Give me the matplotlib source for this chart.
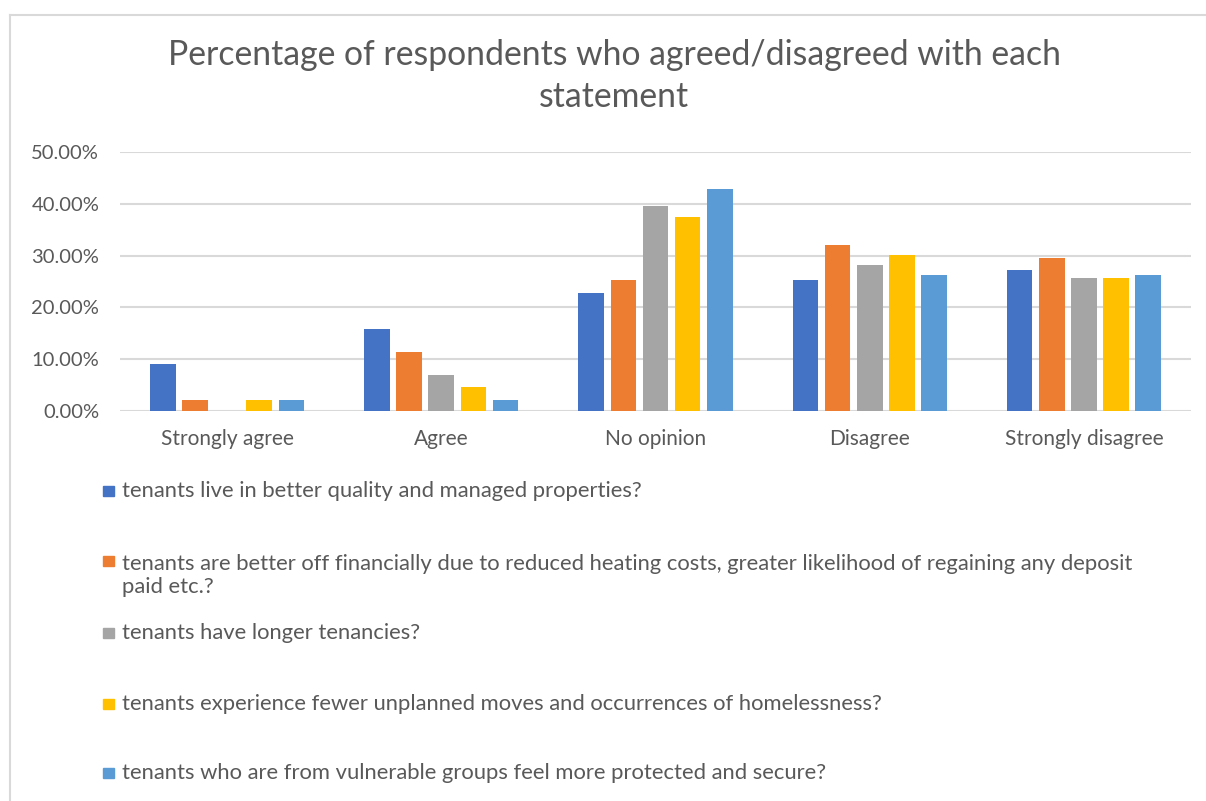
import numpy as np
import matplotlib
matplotlib.use("Agg")
import matplotlib.pyplot as plt
from matplotlib.ticker import PercentFormatter, MultipleLocator
from matplotlib.patches import Rectangle
from matplotlib.lines import Line2D

plt.rcParams['font.family'] = ['Lato', 'DejaVu Sans']

# survey answers (share of respondents)
categories = ["Strongly agree", "Agree", "No opinion", "Disagree", "Strongly disagree"]

statements = [
    "tenants live in better quality and managed properties?",
    "tenants are better off financially due to reduced heating costs, greater likelihood of regaining any deposit\npaid etc.?",
    "tenants have longer tenancies?",
    "tenants experience fewer unplanned moves and occurrences of homelessness?",
    "tenants who are from vulnerable groups feel more protected and secure?",
]

better_quality = [0.090, 0.159, 0.227, 0.252, 0.272]
better_off     = [0.022, 0.114, 0.252, 0.321, 0.296]
longer_tenancy = [0.000, 0.070, 0.395, 0.281, 0.257]
fewer_moves    = [0.022, 0.046, 0.375, 0.301, 0.257]
vulnerable     = [0.022, 0.022, 0.429, 0.262, 0.262]

series = [better_quality, better_off, longer_tenancy, fewer_moves, vulnerable]
colors = ["#4472C4", "#ED7D31", "#A5A5A5", "#FFC000", "#5B9BD5"]
text_col = "#595959"
grid_col = "#D9D9D9"

W, H = 1206, 801
fig = plt.figure(figsize=(W / 100, H / 100), dpi=100)
ax = fig.add_axes([120 / W, 1 - 411 / H, (1191 - 120) / W, (411 - 152) / H])

x = np.arange(len(categories))
step, width = 0.15, 0.12
for i, (vals, c) in enumerate(zip(series, colors)):
    ax.bar(x + (i - 2) * step, vals, width=width, color=c, zorder=3)

ax.set_xlim(-0.5, len(categories) - 0.5)
ax.set_ylim(0, 0.5)
ax.yaxis.set_major_locator(MultipleLocator(0.1))
ax.yaxis.set_major_formatter(PercentFormatter(1.0, decimals=2))
ax.set_xticks(x)
ax.set_xticklabels(categories, fontsize=15)
ax.tick_params(axis='both', length=0, colors=text_col)
ax.tick_params(axis='y', labelsize=14.5, pad=15)
ax.tick_params(axis='x', pad=13)
ax.grid(axis='y', color=grid_col, lw=1.5, zorder=0)
for s in ax.spines.values():
    s.set_visible(False)

fig.text(614 / W, 1 - 55 / H, "Percentage of respondents who agreed/disagreed with each",
         ha='center', va='center', fontsize=24.3, color=text_col)
fig.text(614 / W, 1 - 97 / H, "statement",
         ha='center', va='center', fontsize=24.3, color=text_col)

# legend entries stacked under the plot
legend_y = [491, 561, 633, 704, 773]
for label, c, ly in zip(statements, colors, legend_y):
    fig.patches.append(Rectangle((103 / W, 1 - (ly + 5) / H), 11 / W, 10 / H,
                                 transform=fig.transFigure, color=c, figure=fig))
    n_lines = label.count('\n') + 1
    yc = ly + (n_lines - 1) * 29 / 2
    fig.text(122 / W, 1 - yc / H, label, ha='left', va='center',
             fontsize=15.8, color=text_col, linespacing=1.2)

# chart area outline
fig.lines.append(Line2D([10 / W, 1], [1 - 15 / H] * 2, transform=fig.transFigure,
                        color=grid_col, lw=1.5))
fig.lines.append(Line2D([10 / W] * 2, [0, 1 - 15 / H], transform=fig.transFigure,
                        color=grid_col, lw=1.5))

fig.savefig("out.png", dpi=100, facecolor="white")
